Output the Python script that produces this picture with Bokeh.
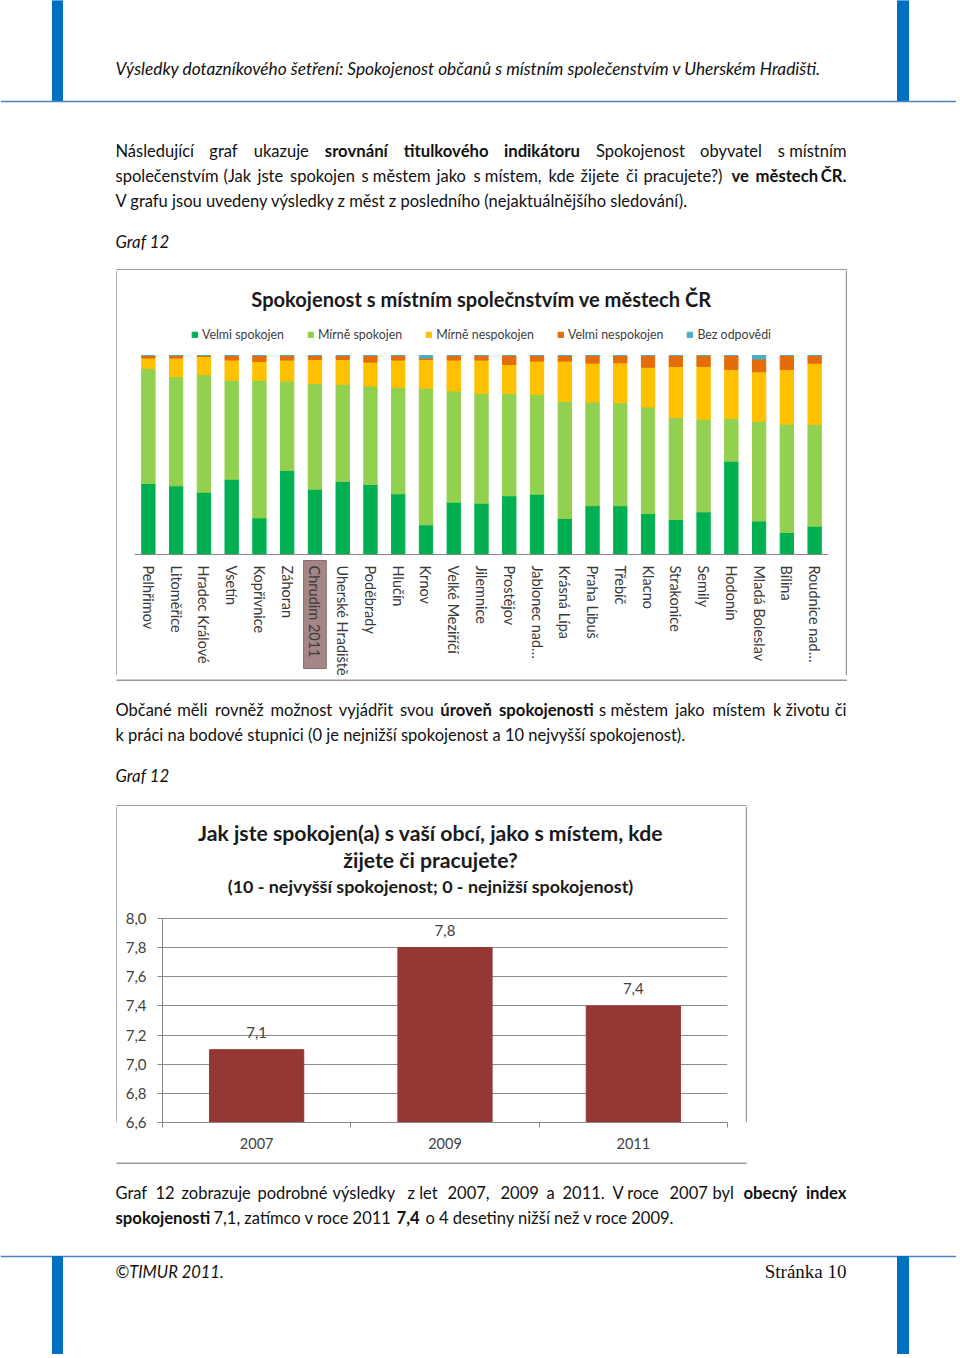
import math
from bokeh.plotting import figure
from bokeh.layouts import column, row
from bokeh.models import (Range1d, FactorRange, Legend, LegendItem, LinearAxis, FixedTicker,
                          CustomJSTickFormatter, ColumnDataSource, LabelSet)
from bokeh.core.properties import value
from bokeh.embed import file_html
from bokeh.resources import INLINE

# ---------------- data: chart 1 (shares in %) ----------------
cities = ["Pelhřimov", "Litoměřice", "Hradec Králové", "Vsetín", "Kopřivnice", "Záhoran",
          "Chrudim 2011", "Uherské Hradiště", "Poděbrady", "Hlučín", "Krnov", "Velké Meziříčí",
          "Jilemnice", "Prostějov", "Jablonec nad…", "Krásná Lípa", "Praha Libuš", "Třebíč",
          "Klacno", "Strakonice", "Semily", "Hodonín", "Mladá Boleslav", "Bílina", "Roudnice nad…"]
velmi_spokojen = [35.7, 34.5, 31.3, 37.8, 18.4, 42.2, 32.8, 36.7, 35.2, 30.5, 14.9, 26.3, 25.8,
                  29.5, 30.3, 18.1, 24.5, 24.5, 20.6, 17.6, 21.4, 46.9, 16.8, 11.1, 14.2]
mirne_spokojen = [57.8, 54.8, 59.1, 49.7, 69.1, 45.0, 53.1, 48.8, 49.5, 53.4, 68.7, 55.9, 55.1,
                  51.4, 50.1, 58.9, 52.2, 51.8, 53.5, 51.2, 46.6, 21.4, 50.1, 54.4, 51.2]
mirne_nespokojen = [5.2, 9.4, 9.1, 10.2, 9.5, 10.5, 12.1, 12.5, 12.0, 13.8, 14.4, 15.5, 16.8,
                    14.6, 16.8, 20.2, 19.5, 20.0, 20.0, 25.7, 26.5, 24.7, 24.9, 27.5, 30.7]
velmi_nespokojen = [1.3, 1.3, 0.5, 2.3, 3.0, 2.3, 2.0, 2.0, 3.3, 2.3, 0.7, 2.3, 2.3,
                    4.5, 2.8, 2.8, 3.8, 3.7, 5.9, 5.5, 5.5, 7.0, 6.4, 7.0, 3.9]
bez_odpovedi = [0, 0, 0, 0, 0, 0, 0, 0, 0, 0, 1.3, 0, 0,
                0, 0, 0, 0, 0, 0, 0, 0, 0, 1.8, 0, 0]
series_names = ["Velmi spokojen", "Mírně spokojen", "Mírně nespokojen", "Velmi nespokojen", "Bez odpovědi"]
series_colors = ["#00B050", "#92D050", "#FFC000", "#E46C0A", "#4BACC6"]
highlight_city = "Chrudim 2011"
chart1_title = "Spokojenost s místním společnstvím ve městech ČR"

# ---------------- data: chart 2 ----------------
years = ["2007", "2009", "2011"]
index_values = [7.1, 7.8, 7.4]
y_ticks = [6.6, 6.8, 7.0, 7.2, 7.4, 7.6, 7.8, 8.0]
chart2_title1 = "Jak jste spokojen(a) s vaší obcí, jako s místem, kde"
chart2_title2 = "žijete či pracujete?"
chart2_sub = "(10 - nejvyšší spokojenost; 0 - nejnižší spokojenost)"

FONT = "Lato"
TXT = "#111111"
REG = "16.5px"
BLD = "16.7px"
ITA = "16.8px"
BOX = "#9a9a9a"
BLUE = "#0070C0"
RULE = "#4F81BD"
PAGE_W = 956


def page_fig(y0, y1, x0=0, x1=PAGE_W):
    p = figure(width=x1 - x0, height=y1 - y0, x_range=Range1d(x0, x1), y_range=Range1d(y1, y0),
               x_axis_location=None, y_axis_location=None, toolbar_location=None,
               output_backend="svg", min_border=0, outline_line_color=None)
    for g in p.grid:
        g.visible = False
    return p


def words(p, items, y, style="normal", size=REG, font=FONT, align="left", color=TXT):
    if not items:
        return
    p.text(x=[it[0] for it in items], y=[y] * len(items), text=[it[1] for it in items],
           text_font=value(font), text_font_size=value(size), text_font_style=style,
           text_align=align, text_baseline="middle", text_color=color)


# ---------------- A: header + first paragraph (page y 0..270) ----------------
pa = page_fig(0, 270)
pa.quad(left=[52, 897], right=[62, 908], top=[0, 0], bottom=[101, 101], color=BLUE)
pa.segment(x0=[0], y0=[101], x1=[PAGE_W], y1=[101], line_color=RULE, line_width=1.5)
words(pa, [(115, "Výsledky dotazníkového šetření: Spokojenost občanů s místním společenstvím v Uherském Hradišti.")],
      68, style="italic", size="17.3px")
words(pa, [(115, "Následující"), (208.8, "graf"), (253.2, "ukazuje"), (595.4, "Spokojenost"), (699.6, "obyvatel")], 150)
words(pa, [(324.3, "srovnání"), (403.3, "titulkového"), (503.5, "indikátoru")], 150, style="bold", size=BLD)
words(pa, [(846, "s místním")], 150, align="right")
words(pa, [(115, "společenstvím"), (223, "(Jak"), (257, "jste"), (289.5, "spokojen"), (361, "s městem"),
           (436, "jako"), (473, "s místem,"), (548, "kde"), (580, "žijete"), (625.5, "či"),
           (643, "pracujete?)")], 175)
words(pa, [(731, "ve"), (755, "městech")], 175, style="bold", size=BLD)
words(pa, [(846, "ČR.")], 175, style="bold", size=BLD, align="right")
words(pa, [(115, "V grafu jsou uvedeny výsledky z měst z posledního (nejaktuálnějšího sledování).")], 200)
words(pa, [(115, "Graf 12")], 241, style="italic", size=ITA)
pa.segment(x0=[116], y0=[269.6], x1=[846.5], y1=[269.6], line_color=BOX, line_width=2)

# ---------------- B: chart 1 row (page y 270..679) ----------------
bl = page_fig(270, 679, 0, 117)
bl.segment(x0=[116.5], y0=[270], x1=[116.5], y1=[679], line_color=BOX, line_width=1.5)
br = page_fig(270, 679, 845, PAGE_W)
br.segment(x0=[845.8], y0=[270], x1=[845.8], y1=[679], line_color=BOX, line_width=1.5)

# frame: page y 270 (top) .. 675 (bottom); value 0 at page y 554, value 100 at page y 355
C1_BASE, C1_TOP100, C1_FRAME_TOP, C1_FRAME_BOTTOM = 554, 355, 270, 675
c1_px = (C1_BASE - C1_TOP100) / 100.0


def c1_y(page_y):
    return (C1_BASE - page_y) / c1_px


keys = ["v_spok", "m_spok", "m_nesp", "v_nesp", "bez"]
src1 = ColumnDataSource(dict(city=cities, v_spok=velmi_spokojen, m_spok=mirne_spokojen,
                             m_nesp=mirne_nespokojen, v_nesp=velmi_nespokojen, bez=bez_odpovedi))
p1 = figure(width=728, height=409, x_range=FactorRange(factors=cities),
            y_range=Range1d(c1_y(C1_FRAME_BOTTOM), c1_y(C1_FRAME_TOP)),
            x_axis_location=None, y_axis_location=None, toolbar_location=None, output_backend="svg",
            min_border_left=17, min_border_right=17, min_border_top=0, min_border_bottom=679 - C1_FRAME_BOTTOM,
            outline_line_color=None)
for g in p1.grid:
    g.visible = False

# highlight behind the "Chrudim 2011" category label
hi = cities.index(highlight_city)
p1.quad(left=[hi + 0.09], right=[hi + 0.91], bottom=[c1_y(668)], top=[c1_y(560)],
        fill_color="#a58585", line_color="#8c6b6b", line_width=1)

rends = p1.vbar_stack(keys, x="city", width=0.48, color=series_colors, source=src1)

# category axis line at value 0 (labels are drawn below as rotated text)
ax1 = LinearAxis(ticker=FixedTicker(ticks=[]), fixed_location=0, axis_line_color="#868686",
                 major_tick_line_color=None, minor_tick_line_color=None, major_tick_out=0,
                 major_tick_in=0, minor_tick_out=0, minor_tick_in=0, major_label_standoff=0)
p1.add_layout(ax1, "below")

p1.text(x=cities, y=[c1_y(565)] * len(cities), text=cities, angle=-math.pi / 2,
        text_font=value(FONT), text_font_size=value("14.5px"), text_color="#3a3a3a",
        text_align="left", text_baseline="middle")

mid_city = cities[len(cities) // 2]
p1.text(x=[mid_city], y=[c1_y(298)], text=[chart1_title], text_font=value(FONT),
        text_font_size=value("20.1px"), text_font_style="bold", text_color="#1a1a1a",
        text_align="center", text_baseline="middle")

legend = Legend(items=[LegendItem(label=n, renderers=[r]) for n, r in zip(series_names, rends)],
                orientation="horizontal", location="top_center", spacing=23, glyph_width=7, glyph_height=7,
                label_standoff=4, label_height=14, label_text_font=FONT, label_text_font_size="12.4px",
                label_text_color="#404040", padding=0, margin=57, border_line_color=None,
                background_fill_alpha=0)
p1.add_layout(legend)

rowB = row(bl, p1, br, spacing=0)

# ---------------- C: middle paragraph (page y 679..806) ----------------
pc = page_fig(679, 806)
pc.segment(x0=[116], y0=[679.4], x1=[846.5], y1=[679.4], line_color=BOX, line_width=2)
words(pc, [(115, "Občané"), (176.7, "měli"), (214.6, "rovněž"), (269.9, "možnost"), (338.3, "vyjádřit"),
           (399.4, "svou"), (598.6, "s městem"), (674.7, "jako"), (711.9, "místem"), (772.5, "k životu")], 709)
words(pc, [(439.8, "úroveň"), (498.5, "spokojenosti")], 709, style="bold", size=BLD)
words(pc, [(846, "či")], 709, align="right")
words(pc, [(115, "k práci na bodové stupnici (0 je nejnižší spokojenost a 10 nejvyšší spokojenost).")], 734)
words(pc, [(115, "Graf 12")], 775, style="italic", size=ITA)
pc.segment(x0=[116], y0=[805.6], x1=[746], y1=[805.6], line_color=BOX, line_width=2)

# ---------------- D: chart 2 row (page y 806..1162) ----------------
dl = page_fig(806, 1162, 0, 117)
dl.segment(x0=[116.5], y0=[806], x1=[116.5], y1=[1162], line_color=BOX, line_width=1.5)
dr = page_fig(806, 1162, 745, PAGE_W)
dr.segment(x0=[745.8], y0=[806], x1=[745.8], y1=[1162], line_color=BOX, line_width=1.5)

# frame: page y 806 (top) .. 1122 (value 6.6); value 8.0 sits at page y 918
C2_BASE, C2_TOPTICK, C2_FRAME_TOP = 1122, 918, 806
c2_px = (C2_BASE - C2_TOPTICK) / (y_ticks[-1] - y_ticks[0])


def c2_y(page_y):
    return y_ticks[0] + (C2_BASE - page_y) / c2_px


src2 = ColumnDataSource(dict(year=years, value=index_values,
                             label=[f"{v:.1f}".replace(".", ",") for v in index_values]))
p2 = figure(width=628, height=356, x_range=FactorRange(factors=years),
            y_range=Range1d(y_ticks[0], c2_y(C2_FRAME_TOP)),
            x_axis_location=None, toolbar_location=None, output_backend="svg",
            min_border_left=45, min_border_right=18, min_border_top=0, min_border_bottom=40,
            outline_line_color=None)
p2.vbar(x="year", top="value", bottom=y_ticks[0], width=0.5, color="#953735", source=src2)
p2.add_layout(LabelSet(x="year", y="value", text="label", source=src2, y_offset=12,
                       text_align="center", text_baseline="bottom", text_font=value(FONT),
                       text_font_size=value("15px"), text_color="#404040"))
ya = p2.yaxis[0]
ya.ticker = FixedTicker(ticks=y_ticks)
ya.bounds = (y_ticks[0], y_ticks[-1])
ya.formatter = CustomJSTickFormatter(code="return tick.toFixed(1).replace('.', ',')")
ya.axis_line_color = "#868686"
ya.major_tick_line_color = "#868686"
ya.major_tick_out = 5
ya.major_tick_in = 0
ya.minor_tick_line_color = None
ya.major_label_text_font = FONT
ya.major_label_text_font_size = "15px"
ya.major_label_text_color = "#404040"
ya.major_label_standoff = 11
for g in p2.xgrid:
    g.visible = False
p2.ygrid.ticker = ya.ticker
p2.ygrid.grid_line_color = "#8c8c8c"

centers = [i + 0.5 for i in range(len(years))]
xa = LinearAxis(ticker=FixedTicker(ticks=centers, minor_ticks=[float(i) for i in range(len(years) + 1)]),
                major_label_overrides={c: y for c, y in zip(centers, years)},
                axis_line_color="#868686", major_tick_line_color=None,
                minor_tick_line_color="#868686", minor_tick_out=5, minor_tick_in=0,
                major_label_text_font=FONT, major_label_text_font_size="14.5px",
                major_label_text_color="#404040", major_label_standoff=9)
p2.add_layout(xa, "below")

mid_year = years[len(years) // 2]
for txt, py, size in [(chart2_title1, 832, "21.2px"), (chart2_title2, 859, "21.2px"), (chart2_sub, 885, "17.9px")]:
    p2.text(x=[mid_year], y=[c2_y(py)], text=[txt], x_offset=-14.5, text_font=value(FONT),
            text_font_size=value(size), text_font_style="bold", text_color="#1a1a1a",
            text_align="center", text_baseline="middle")

rowD = row(dl, p2, dr, spacing=0)

# ---------------- E: last paragraph + footer (page y 1162..1354) ----------------
pe = page_fig(1162, 1354)
pe.segment(x0=[116], y0=[1162.4], x1=[746], y1=[1162.4], line_color=BOX, line_width=2)
words(pe, [(115, "Graf"), (155, "12"), (181, "zobrazuje"), (257, "podrobné"), (332, "výsledky"),
           (407, "z let"), (447, "2007,"), (500, "2009"), (546, "a"), (562, "2011."), (612, "V roce"),
           (669, "2007"), (712, "byl")], 1192)
words(pe, [(743, "obecný")], 1192, style="bold", size=BLD)
words(pe, [(846, "index")], 1192, style="bold", size=BLD, align="right")
words(pe, [(115, "spokojenosti"), (396, "7,4")], 1217, style="bold", size=BLD)
words(pe, [(213, "7,1, zatímco v roce 2011"), (425, "o 4 desetiny nižší než v roce 2009.")], 1217)
pe.segment(x0=[0], y0=[1256], x1=[PAGE_W], y1=[1256], line_color=RULE, line_width=1.5)
pe.quad(left=[52, 897], right=[62, 908], top=[1256, 1256], bottom=[1354, 1354], color=BLUE)
words(pe, [(115, "©TIMUR 2011.")], 1271, style="italic")
words(pe, [(846, "Stránka 10")], 1271, font="Liberation Serif", size="19px", align="right")

layout = column(pa, rowB, pc, rowD, pe, spacing=0)

with open("out.html", "w") as f:
    f.write(file_html(layout, INLINE, title="Spokojenost"))
